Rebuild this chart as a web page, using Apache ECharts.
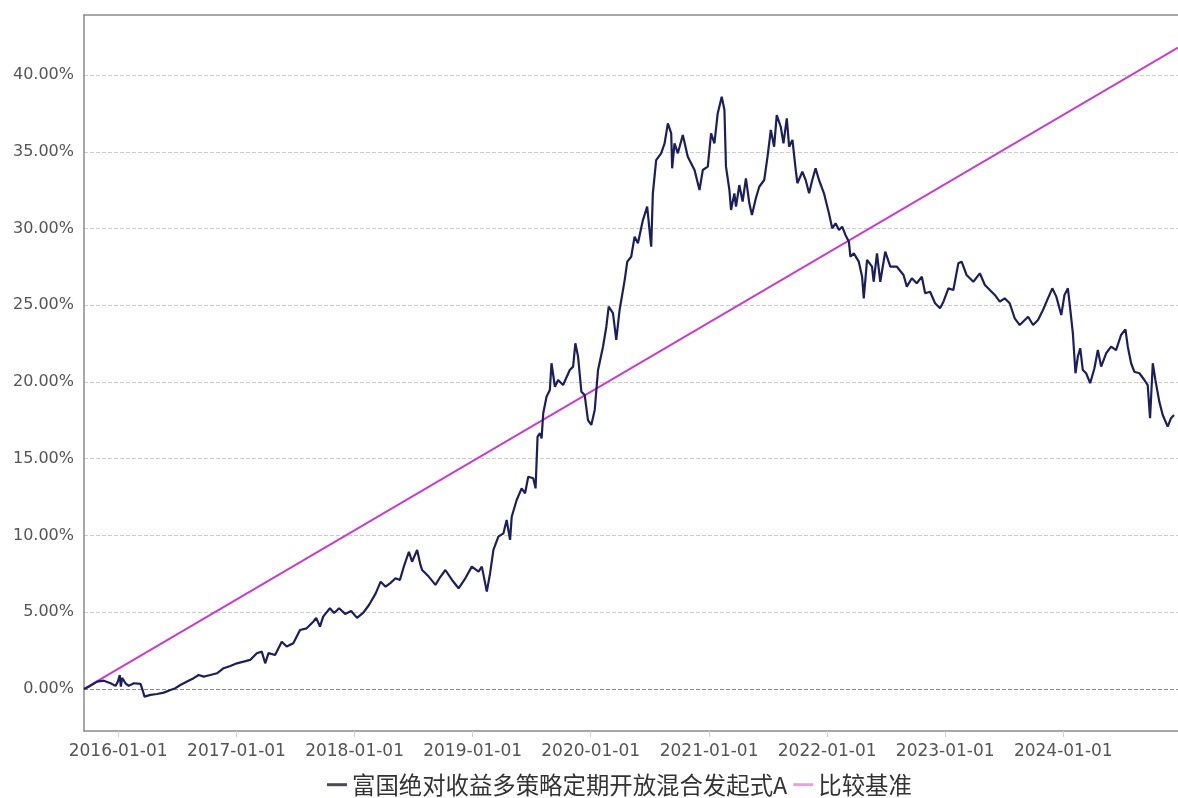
<!DOCTYPE html>
<html>
<head>
<meta charset="utf-8">
<script src="https://cdn.jsdelivr.net/npm/echarts@6/dist/echarts.min.js"></script>
<style>html,body{margin:0;padding:0;background:#fff;overflow:hidden}#c{width:1178px;height:798px}</style>
</head>
<body>
<div id="c"></div>
<script>
// ---- data (time as decimal year, value in %) ----
const seriesNames = ['富国绝对收益多策略定期开放混合发起式A', '比较基准'];
const fundYears = [2015.711,2015.753,2015.823,2015.879,2015.936,2015.978,2015.997,2016.014,2016.023,2016.034,2016.062,2016.090,2016.132,2016.189,2016.211,2016.223,2016.273,2016.329,2016.385,2016.442,2016.484,2016.526,2016.582,2016.638,2016.680,2016.723,2016.779,2016.835,2016.891,2016.948,2017.003,2017.060,2017.116,2017.172,2017.214,2017.243,2017.271,2017.327,2017.383,2017.425,2017.481,2017.538,2017.594,2017.650,2017.675,2017.707,2017.734,2017.791,2017.827,2017.869,2017.920,2017.971,2018.021,2018.072,2018.122,2018.179,2018.221,2018.263,2018.305,2018.347,2018.384,2018.417,2018.460,2018.487,2018.530,2018.558,2018.572,2018.628,2018.685,2018.721,2018.769,2018.825,2018.881,2018.938,2018.993,2019.050,2019.078,2019.120,2019.148,2019.176,2019.218,2019.261,2019.288,2019.317,2019.331,2019.373,2019.415,2019.444,2019.471,2019.513,2019.533,2019.550,2019.570,2019.584,2019.598,2019.626,2019.654,2019.668,2019.697,2019.724,2019.766,2019.823,2019.851,2019.870,2019.893,2019.921,2019.949,2019.977,2020.005,2020.034,2020.062,2020.104,2020.132,2020.152,2020.188,2020.216,2020.244,2020.287,2020.309,2020.342,2020.371,2020.399,2020.441,2020.477,2020.511,2020.525,2020.553,2020.595,2020.624,2020.652,2020.680,2020.688,2020.708,2020.736,2020.778,2020.820,2020.877,2020.919,2020.947,2020.989,2021.017,2021.045,2021.073,2021.107,2021.130,2021.143,2021.172,2021.186,2021.214,2021.228,2021.256,2021.284,2021.312,2021.341,2021.363,2021.396,2021.425,2021.467,2021.495,2021.523,2021.551,2021.573,2021.607,2021.630,2021.658,2021.678,2021.706,2021.734,2021.748,2021.790,2021.818,2021.847,2021.874,2021.902,2021.931,2021.973,2022.015,2022.043,2022.071,2022.100,2022.127,2022.155,2022.184,2022.197,2022.226,2022.268,2022.296,2022.310,2022.338,2022.380,2022.394,2022.422,2022.450,2022.492,2022.507,2022.535,2022.591,2022.647,2022.675,2022.717,2022.759,2022.802,2022.830,2022.872,2022.914,2022.956,2022.985,2023.027,2023.069,2023.111,2023.139,2023.181,2023.238,2023.293,2023.336,2023.378,2023.420,2023.462,2023.504,2023.546,2023.589,2023.631,2023.702,2023.744,2023.786,2023.828,2023.870,2023.907,2023.941,2023.983,2024.010,2024.039,2024.058,2024.081,2024.103,2024.123,2024.143,2024.165,2024.193,2024.227,2024.263,2024.292,2024.320,2024.362,2024.404,2024.446,2024.488,2024.525,2024.545,2024.573,2024.600,2024.643,2024.685,2024.713,2024.733,2024.756,2024.778,2024.811,2024.840,2024.882,2024.910,2024.935];
const fundValues = [0.00,0.15,0.48,0.54,0.37,0.20,0.46,0.91,0.15,0.72,0.37,0.20,0.37,0.33,-0.18,-0.50,-0.39,-0.33,-0.24,-0.07,0.05,0.26,0.48,0.70,0.91,0.80,0.91,1.02,1.35,1.50,1.67,1.78,1.89,2.33,2.43,1.67,2.33,2.21,3.08,2.76,2.98,3.84,3.95,4.38,4.63,4.06,4.71,5.26,4.95,5.26,4.89,5.08,4.63,4.95,5.47,6.23,6.99,6.66,6.91,7.21,7.10,7.97,8.94,8.29,9.06,8.08,7.75,7.32,6.78,7.23,7.75,7.10,6.56,7.21,7.97,7.64,7.97,6.34,7.54,9.06,9.92,10.14,11.01,9.71,11.22,12.31,13.07,12.75,13.83,13.73,13.07,16.44,16.66,16.33,17.96,19.04,19.48,21.22,19.69,20.13,19.80,20.78,21.00,22.52,21.65,19.37,19.15,17.52,17.20,18.18,20.78,22.30,23.60,24.91,24.48,22.74,24.69,26.64,27.84,28.16,29.47,29.04,30.55,31.42,28.81,32.29,34.46,34.90,35.55,36.85,36.20,33.92,35.55,34.90,36.09,34.68,33.81,32.51,33.81,34.03,36.20,35.55,37.50,38.59,37.72,34.03,32.51,31.21,32.29,31.42,32.83,31.75,33.27,31.64,30.88,31.97,32.72,33.16,34.68,36.42,35.33,37.39,36.63,35.55,37.18,35.33,35.77,33.81,32.95,33.70,33.16,32.29,33.16,33.92,33.16,32.29,30.99,30.01,30.34,29.90,30.12,29.58,29.14,28.16,28.38,27.84,26.86,25.45,27.95,27.51,26.53,28.38,26.53,28.49,28.60,27.51,27.51,26.97,26.21,26.76,26.43,26.86,25.78,25.88,25.13,24.80,25.23,26.10,25.99,27.73,27.84,26.97,26.53,27.08,26.32,25.99,25.67,25.23,25.45,25.13,24.15,23.71,24.25,23.71,24.04,24.69,25.45,26.10,25.56,24.36,25.67,26.10,24.80,23.17,20.57,21.65,22.20,20.78,20.57,19.92,20.89,22.08,21.00,21.87,22.30,22.08,23.06,23.43,22.30,21.22,20.67,20.57,20.13,19.80,17.64,21.22,20.13,18.72,17.85,17.09,17.64,17.85];
const benchYears = [2015.711, 2024.969];
const benchValues = [0.00, 41.78];
const yTicks = [0, 5, 10, 15, 20, 25, 30, 35, 40];
const xTickYears = [2016, 2017, 2018, 2019, 2020, 2021, 2022, 2023, 2024];

function yearToTime(y) {
  const Y = Math.floor(y);
  const a = Date.UTC(Y, 0, 1), b = Date.UTC(Y + 1, 0, 1);
  return a + (y - Y) * (b - a);
}
const fundData = fundYears.map((y, i) => [yearToTime(y), fundValues[i]]);
const benchData = benchYears.map((y, i) => [yearToTime(y), benchValues[i]]);
const xTickTimes = xTickYears.map(y => Date.UTC(y, 0, 1));
const xMin = yearToTime(benchYears[0]), xMax = yearToTime(benchYears[1]);

const chart = echarts.init(document.getElementById('c'), null, {renderer: 'canvas'});
chart.setOption({
  animation: false,
  backgroundColor: '#fff',
  grid: {left: 84, right: -4, top: 15, bottom: 67, show: false, containLabel: false},
  legend: {
    left: 322, top: 768,
    icon: 'rect', itemWidth: 20, itemHeight: 3, itemGap: 6,
    textStyle: {fontFamily: 'Noto Sans CJK SC', fontSize: 23.4, color: '#333'},
    data: [
      {name: seriesNames[0], itemStyle: {color: '#4a4a58'}},
      {name: seriesNames[1], itemStyle: {color: '#e6a3e2'}}
    ]
  },
  xAxis: [{
    type: 'value', min: xMin, max: xMax,
    axisLine: {show: true, onZero: false, lineStyle: {color: '#8a8a8a', width: 1.5}},
    axisTick: {show: true, customValues: xTickTimes, length: 6, lineStyle: {color: '#cfcfcf'}},
    axisLabel: {
      customValues: xTickTimes, margin: 12,
      fontFamily: 'DejaVu Sans', fontSize: 17, color: '#555',
      formatter: v => new Date(v).getUTCFullYear() + '-01-01'
    },
    splitLine: {show: false}
  }, {
    type: 'value', min: xMin, max: xMax, position: 'top',
    axisLine: {show: true, onZero: false, lineStyle: {color: '#8a8a8a', width: 1.5}},
    axisTick: {show: false}, axisLabel: {show: false}, splitLine: {show: false}
  }],
  yAxis: {
    type: 'value',
    min: -2.74, max: 43.91,
    axisLine: {show: true, lineStyle: {color: '#8a8a8a', width: 1.5}},
    axisTick: {show: false, customValues: yTicks},
    axisLabel: {
      customValues: yTicks, margin: 10,
      fontFamily: 'DejaVu Sans', fontSize: 16, color: '#555',
      formatter: v => v.toFixed(2) + '%'
    },
    splitLine: {show: true, lineStyle: {type: 'dashed', color: ['#8c8c8c', '#cccccc', '#cccccc', '#cccccc', '#cccccc', '#cccccc', '#cccccc', '#cccccc', '#cccccc'], width: 1}}
  },
  series: [
    {name: seriesNames[0], type: 'line', data: fundData, showSymbol: false, symbol: 'none',
     lineStyle: {color: '#1b1f5e', width: 2.2}, itemStyle: {color: '#1b1f5e'}, z: 3},
    {name: seriesNames[1], type: 'line', data: benchData, showSymbol: false, symbol: 'none',
     lineStyle: {color: '#c83ccf', width: 2}, itemStyle: {color: '#c83ccf'}, z: 2}
  ]
});
</script>
</body>
</html>
